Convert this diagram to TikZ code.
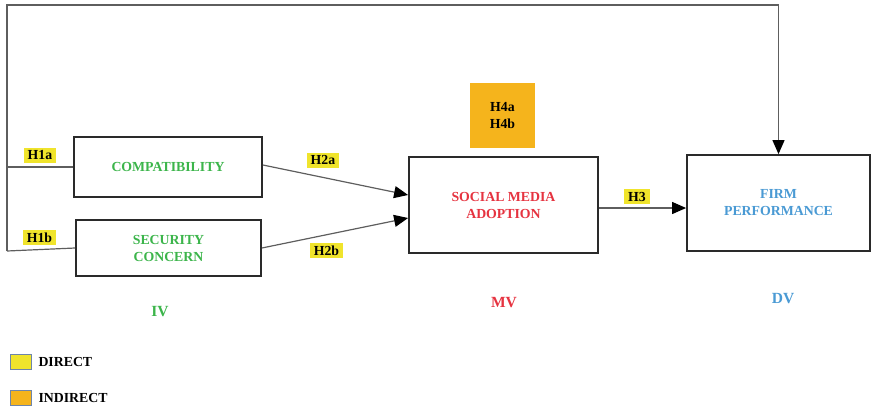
\documentclass[tikz,border=0pt]{standalone}
\usepackage{fontspec}
\setmainfont{Liberation Serif}
\usetikzlibrary{arrows.meta}
\definecolor{ivgreen}{HTML}{3CB54B}
\definecolor{mvred}{HTML}{E63340}
\definecolor{dvblue}{HTML}{4A9AD4}
\definecolor{hyel}{HTML}{F0E42C}
\definecolor{horange}{HTML}{F5B41C}
\definecolor{legedge}{HTML}{6E85AA}
\definecolor{boxedge}{HTML}{2A2A2A}
\definecolor{linegray}{HTML}{5E5E5E}
\begin{document}
\begin{tikzpicture}[x=1pt,y=-1pt,
  every node/.style={font=\fontsize{13.8}{17}\selectfont\bfseries, align=center},
  varbox/.style={draw=boxedge, line width=1.8pt, fill=white, inner sep=0pt},
  conn/.style={draw=linegray, line width=1.2pt},
  arrowed/.style={conn, -{Triangle[length=14pt,width=12pt,color=black]}},
  hyp/.style={fill=hyel, text=black, inner xsep=4pt, inner ysep=0pt, minimum height=15pt},
  vlabel/.style={font=\fontsize{15.5}{18}\selectfont\bfseries},
  legsq/.style={draw=legedge, line width=1.4pt, minimum width=21pt, minimum height=15pt, inner sep=0pt}
]
\useasboundingbox (0,0) rectangle (872,410);

% variable boxes
\node[varbox, minimum width=188pt, minimum height=60pt, text=ivgreen] (compat) at (168,167) {COMPATIBILITY};
\node[varbox, minimum width=185pt, minimum height=56pt, text=ivgreen] (secur) at (168.5,248) {SECURITY\\CONCERN};
\node[varbox, minimum width=189pt, minimum height=96pt, text=mvred] (sma) at (503.5,205) {SOCIAL MEDIA\\ADOPTION};
\node[varbox, minimum width=183pt, minimum height=96pt, text=dvblue] (firm) at (778.5,203) {FIRM\\PERFORMANCE};

% mediation marker
\node[fill=horange, minimum width=65pt, minimum height=65pt, inner sep=0pt] (h4) at (502.5,115.5) {H4a\\H4b};

% connectors
\coordinate (lb) at (7,251);
\coordinate (lt) at (7,5);
\draw[arrowed] (lb) -- (lt) -| (firm.north);
\draw[conn] (lb |- compat.west) -- (compat.west);
\draw[conn] (lb) -- (secur.west);
\draw[arrowed] ([yshift=2pt]compat.east) -- ([yshift=10pt]sma.west);
\draw[arrowed] (secur.east) -- ([yshift=-13pt]sma.west);
\draw[arrowed] ([yshift=-3pt]sma.east) -- ([yshift=-5pt]firm.west);

% hypothesis labels
\node[hyp] (h1a) at (40,155) {H1a};
\node[hyp] (h1b) at (39.5,237.5) {H1b};
\node[hyp] (h2a) at (323,160) {H2a};
\node[hyp] (h2b) at (326.5,250.5) {H2b};
\node[hyp] (h3) at (637,196.5) {H3};

% variable type labels
\node[vlabel, text=ivgreen] (iv) at (160,312) {IV};
\node[vlabel, text=mvred] (mv) at (504,303) {MV};
\node[vlabel, text=dvblue] (dv) at (783,299) {DV};

% legend
\node[legsq, fill=hyel] (ld) at (21,362) {};
\node[anchor=west] (ldt) at (35,362) {DIRECT};
\node[legsq, fill=horange] (li) at (21,398) {};
\node[anchor=west] (lit) at (35,398) {INDIRECT};
\end{tikzpicture}
\end{document}
